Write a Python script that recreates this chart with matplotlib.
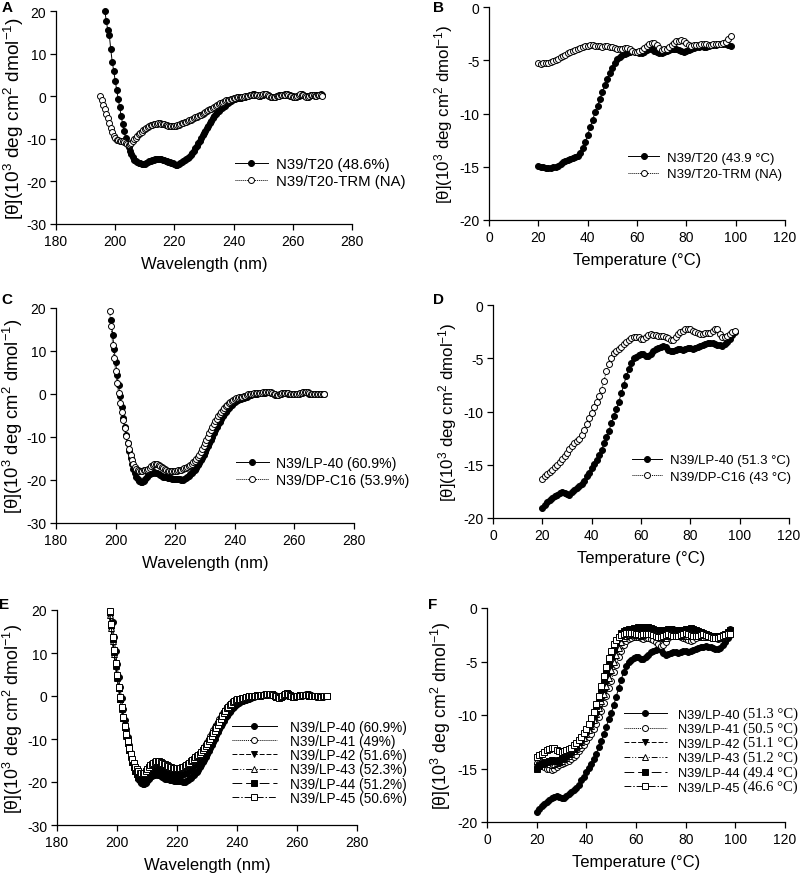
import numpy as np
import matplotlib
matplotlib.use("Agg")
import matplotlib.pyplot as plt
from matplotlib.transforms import IdentityTransform

plt.rcParams.update({
    "font.family": ["Liberation Sans", "DejaVu Sans"],
    "mathtext.fontset": "custom",
    "mathtext.rm": "Liberation Sans",
    "mathtext.it": "Liberation Sans:italic",
    "mathtext.bf": "Liberation Sans:bold",
    "mathtext.sf": "Liberation Sans",
    "mathtext.tt": "Liberation Serif",
    "axes.unicode_minus": False,
})

# ---------------- data ----------------
WL_STEP = 0.5
# Panel A (CD spectra)
A_T20_START = 196.5
A_T20 = [20.0, 17.6, 15.5, 14.4, 11.0, 8.0, 6.0, 3.6, 1.5, -0.6,
         -2.6, -4.6, -6.5, -8.2, -9.8, -11.0, -12.0, -12.8, -13.6, -14.3,
         -14.9, -15.3, -15.5, -15.6, -15.7, -15.8, -15.8, -15.8, -15.7, -15.5,
         -15.3, -15.1, -15.0, -14.9, -14.8, -14.7, -14.7, -14.7, -14.8, -14.9,
         -15.0, -15.2, -15.3, -15.4, -15.5, -15.6, -15.7, -15.9, -16.1, -16.1,
         -15.9, -15.7, -15.5, -15.3, -15.0, -14.8, -14.5, -14.2, -13.8, -13.3,
         -12.8, -12.2, -11.6, -11.0, -10.4, -9.8, -9.2, -8.7, -8.1, -7.5,
         -7.0, -6.4, -5.8, -5.2, -4.7, -4.2, -3.8, -3.4, -3.1, -2.8,
         -2.5, -2.2, -1.9, -1.6, -1.3, -1.1, -0.9, -0.7, -0.6, -0.5,
         -0.5, -0.5, -0.4, -0.3, -0.2, -0.1, 0.0, 0.1, 0.2, 0.3,
         0.4, 0.4, 0.3, 0.2, 0.1, 0.1, 0.2, 0.3, 0.4, 0.4,
         0.3, 0.1, -0.1, -0.2, -0.2, -0.1, 0.0, 0.1, 0.2, 0.2,
         0.2, 0.3, 0.4, 0.4, 0.3, 0.2, 0.1, 0.0, -0.1, -0.1,
         0.0, 0.1, 0.3, 0.4, 0.3, 0.1, 0.0, -0.1, 0.0, 0.2,
         0.3, 0.3, 0.2, 0.2, 0.3, 0.3, 0.4, 0.3]
A_TRM_START = 195.0
A_TRM = [0.0, -1.0, -2.0, -3.0, -4.1, -5.2, -6.3, -7.4, -8.4, -9.3,
         -9.9, -10.2, -10.3, -10.4, -10.5, -10.6, -10.7, -10.9, -11.2, -11.5,
         -11.2, -10.9, -10.5, -10.1, -9.7, -9.3, -8.9, -8.6, -8.3, -8.0,
         -7.7, -7.4, -7.2, -7.0, -6.8, -6.7, -6.6, -6.5, -6.5, -6.4,
         -6.4, -6.5, -6.5, -6.6, -6.7, -6.8, -6.9, -7.0, -7.1, -7.1,
         -7.0, -6.9, -6.8, -6.7, -6.6, -6.4, -6.3, -6.1, -6.0, -5.8,
         -5.6, -5.5, -5.3, -5.1, -4.9, -4.8, -4.6, -4.4, -4.3, -4.1,
         -3.9, -3.7, -3.5, -3.3, -3.1, -2.9, -2.7, -2.5, -2.3, -2.1,
         -1.9, -1.7, -1.5, -1.4, -1.2, -1.0, -0.9, -0.8, -0.7, -0.6,
         -0.5, -0.4, -0.3, -0.3, -0.3, -0.2, -0.2, -0.1, 0.0, 0.1,
         0.1, 0.2, 0.3, 0.3, 0.3, 0.2, 0.2, 0.1, 0.2, 0.3,
         0.4, 0.5, 0.4, 0.3, 0.0, -0.2, -0.3, -0.2, -0.1, 0.0,
         0.0, 0.1, 0.2, 0.2, 0.3, 0.3, 0.4, 0.3, 0.1, 0.0,
         -0.1, -0.2, -0.1, 0.0, 0.2, 0.4, 0.3, 0.2, 0.0, -0.1,
         -0.1, 0.1, 0.2, 0.3, 0.2, 0.1, 0.1, 0.2, 0.2, 0.2,
         0.1]

# Panel C / E (CD spectra)
LP40_CD_START = 198.5
LP40_CD = [17.3, 13.8, 10.5, 7.5, 4.5, 2.0, -0.5, -3.0, -5.5, -7.6,
           -9.6, -11.5, -13.2, -14.8, -16.2, -17.4, -18.4, -19.2, -19.8, -20.2,
           -20.4, -20.4, -20.2, -19.8, -19.3, -18.9, -18.6, -18.4, -18.3, -18.2,
           -18.3, -18.4, -18.6, -18.8, -19.0, -19.2, -19.3, -19.4, -19.5, -19.6,
           -19.6, -19.7, -19.7, -19.7, -19.7, -19.8, -19.8, -19.9, -19.9, -19.8,
           -19.6, -19.3, -19.0, -18.7, -18.4, -18.0, -17.6, -17.1, -16.6, -16.0,
           -15.4, -14.8, -14.1, -13.4, -12.8, -12.1, -11.4, -10.6, -9.9, -9.1,
           -8.4, -7.7, -7.0, -6.4, -5.8, -5.2, -4.7, -4.2, -3.7, -3.3,
           -2.9, -2.5, -2.2, -1.9, -1.6, -1.4, -1.2, -1.1, -1.0, -0.9,
           -0.8, -0.6, -0.5, -0.3, -0.2, -0.1, 0.0, 0.1, 0.1, 0.2,
           0.2, 0.3, 0.3, 0.3, 0.4, 0.4, 0.4, 0.3, 0.2, 0.0,
           -0.2, -0.3, -0.2, 0.0, 0.1, 0.2, 0.3, 0.3, 0.2, 0.1,
           0.0, -0.1, -0.1, -0.1, 0.0, 0.0, 0.1, 0.2, 0.3, 0.4,
           0.4, 0.4, 0.3, 0.1, 0.0, -0.1, -0.1, -0.1, 0.0, 0.0,
           0.0, 0.0, 0.0, 0.0]
DPC16_CD_START = 198.0
DPC16_CD = [19.2, 15.7, 11.5, 8.3, 5.3, 2.6, 0.2, -2.1, -4.2, -6.1,
            -8.0, -9.8, -11.4, -12.9, -14.2, -15.3, -16.2, -16.9, -17.4, -17.7,
            -17.8, -17.8, -17.8, -17.7, -17.7, -17.6, -17.4, -17.1, -16.8, -16.5,
            -16.3, -16.2, -16.3, -16.5, -16.8, -17.0, -17.3, -17.5, -17.7, -17.8,
            -17.9, -17.9, -17.8, -17.8, -17.8, -17.8, -17.7, -17.7, -17.6, -17.4,
            -17.3, -17.1, -16.9, -16.7, -16.5, -16.2, -15.9, -15.5, -15.1, -14.6,
            -14.1, -13.5, -12.8, -12.1, -11.3, -10.6, -9.9, -9.1, -8.4, -7.7,
            -7.0, -6.3, -5.7, -5.1, -4.6, -4.1, -3.7, -3.3, -2.9, -2.5,
            -2.2, -1.9, -1.6, -1.4, -1.2, -1.0, -0.9, -0.8, -0.7, -0.6,
            -0.5, -0.4, -0.2, -0.1, 0.0, 0.1, 0.1, 0.2, 0.2, 0.3,
            0.3, 0.3, 0.3, 0.4, 0.4, 0.5, 0.5, 0.5, 0.4, 0.3,
            0.1, -0.1, -0.3, -0.3, -0.1, 0.1, 0.2, 0.3, 0.3, 0.3,
            0.2, 0.1, 0.0, -0.1, -0.1, -0.1, 0.0, 0.1, 0.2, 0.3,
            0.4, 0.5, 0.5, 0.4, 0.2, 0.0, -0.1, -0.1, 0.0, 0.0,
            -0.1, 0.0, 0.0, 0.1, 0.1]

E_START = 197.5
LP41_CD = [19.0, 16.0, 13.0, 10.0, 7.2, 4.5, 2.0, -0.5, -2.9, -5.1,
           -7.2, -9.1, -10.9, -12.5, -14.0, -15.3, -16.4, -17.3, -18.0, -18.4,
           -18.7, -18.8, -18.8, -18.6, -18.2, -17.7, -17.2, -16.8, -16.5, -16.3,
           -16.1, -16.0, -16.0, -16.1, -16.2, -16.4, -16.6, -16.8, -17.0, -17.2,
           -17.3, -17.4, -17.5, -17.6, -17.6, -17.7, -17.7, -17.6, -17.5, -17.4,
           -17.2, -17.0, -16.7, -16.4, -16.1, -15.7, -15.3, -14.9, -14.5, -14.0,
           -13.5, -13.0, -12.4, -11.8, -11.2, -10.6, -9.9, -9.3, -8.6, -8.0,
           -7.3, -6.7, -6.0, -5.4, -4.8, -4.2, -3.7, -3.2, -2.8, -2.4,
           -2.0, -1.7, -1.4, -1.2, -1.0, -0.8, -0.7, -0.6, -0.5, -0.4,
           -0.3, -0.2, -0.1, 0.0, 0.0, 0.1, 0.1, 0.1, 0.2, 0.2,
           0.2, 0.3, 0.3, 0.4, 0.4, 0.4, 0.5, 0.4, 0.3, 0.2,
           0.0, -0.2, -0.3, -0.3, -0.1, 0.1, 0.4, 0.5, 0.5, 0.3,
           0.0, -0.1, -0.2, -0.1, 0.0, 0.0, 0.1, 0.2, 0.2, 0.3,
           0.3, 0.2, 0.2, 0.1, 0.1, 0.0, -0.1, -0.1, -0.1, -0.2,
           -0.1, -0.1, -0.2, -0.1, -0.1, -0.1]
LP42_CD = [18.5, 15.5, 12.5, 9.6, 6.8, 4.2, 1.7, -0.8, -3.1, -5.3,
           -7.4, -9.3, -11.1, -12.7, -14.2, -15.5, -16.6, -17.5, -18.3, -18.9,
           -19.3, -19.5, -19.5, -19.3, -18.9, -18.4, -17.9, -17.5, -17.2, -17.0,
           -16.8, -16.7, -16.7, -16.8, -16.9, -17.1, -17.3, -17.5, -17.7, -17.9,
           -18.0, -18.1, -18.2, -18.3, -18.3, -18.4, -18.4, -18.3, -18.2, -18.1,
           -17.9, -17.7, -17.4, -17.1, -16.8, -16.4, -16.0, -15.6, -15.2, -14.7,
           -14.2, -13.7, -13.1, -12.5, -11.9, -11.3, -10.6, -10.0, -9.3, -8.7,
           -8.0, -7.4, -6.7, -6.1, -5.5, -4.9, -4.3, -3.7, -3.2, -2.8,
           -2.4, -2.0, -1.7, -1.4, -1.2, -1.0, -0.8, -0.7, -0.6, -0.5,
           -0.4, -0.3, -0.2, -0.1, 0.0, 0.0, 0.1, 0.1, 0.2, 0.2,
           0.2, 0.3, 0.3, 0.3, 0.4, 0.4, 0.4, 0.5, 0.4, 0.3,
           0.1, -0.1, -0.3, -0.4, -0.3, -0.1, 0.2, 0.4, 0.5, 0.4,
           0.1, 0.0, -0.2, -0.2, -0.1, 0.0, 0.1, 0.2, 0.2, 0.2,
           0.3, 0.2, 0.2, 0.1, 0.1, 0.0, -0.1, -0.1, -0.1, -0.1,
           -0.1, -0.2, -0.2, -0.1, -0.1, -0.1]
LP43_CD = [18.8, 15.8, 12.8, 9.8, 7.0, 4.3, 1.8, -0.7, -3.0, -5.2,
           -7.3, -9.2, -11.0, -12.6, -14.1, -15.4, -16.5, -17.4, -18.1, -18.6,
           -19.0, -19.2, -19.2, -19.0, -18.6, -18.1, -17.6, -17.2, -16.9, -16.7,
           -16.5, -16.4, -16.4, -16.5, -16.6, -16.8, -17.0, -17.2, -17.4, -17.6,
           -17.7, -17.8, -17.9, -18.0, -18.0, -18.1, -18.1, -18.0, -17.9, -17.8,
           -17.6, -17.4, -17.1, -16.8, -16.5, -16.1, -15.7, -15.3, -14.9, -14.4,
           -13.9, -13.4, -12.8, -12.2, -11.6, -11.0, -10.3, -9.7, -9.0, -8.4,
           -7.7, -7.1, -6.4, -5.8, -5.2, -4.6, -4.0, -3.5, -3.0, -2.6,
           -2.2, -1.9, -1.6, -1.3, -1.1, -0.9, -0.8, -0.7, -0.6, -0.5,
           -0.4, -0.3, -0.2, -0.1, 0.0, 0.1, 0.1, 0.2, 0.2, 0.2,
           0.2, 0.3, 0.3, 0.4, 0.4, 0.5, 0.5, 0.5, 0.4, 0.2,
           0.0, -0.2, -0.3, -0.3, -0.2, 0.0, 0.3, 0.5, 0.6, 0.4,
           0.1, -0.1, -0.2, -0.1, 0.0, 0.1, 0.2, 0.2, 0.3, 0.3,
           0.3, 0.2, 0.2, 0.1, 0.0, 0.0, -0.1, -0.1, -0.1, -0.2,
           -0.2, -0.2, -0.1, -0.1, -0.1, -0.1]
LP44_CD = [19.5, 16.4, 13.3, 10.2, 7.3, 4.5, 1.9, -0.6, -2.9, -5.1,
           -7.2, -9.1, -10.9, -12.5, -14.0, -15.3, -16.4, -17.4, -18.2, -18.8,
           -19.2, -19.4, -19.4, -19.2, -18.8, -18.3, -17.8, -17.4, -17.1, -16.9,
           -16.7, -16.6, -16.6, -16.7, -16.8, -17.0, -17.2, -17.4, -17.6, -17.8,
           -17.9, -18.0, -18.1, -18.2, -18.2, -18.3, -18.3, -18.2, -18.1, -18.0,
           -17.8, -17.6, -17.3, -17.0, -16.7, -16.3, -15.9, -15.5, -15.1, -14.6,
           -14.1, -13.6, -13.0, -12.4, -11.8, -11.2, -10.5, -9.9, -9.2, -8.6,
           -7.9, -7.3, -6.6, -6.0, -5.4, -4.8, -4.2, -3.6, -3.1, -2.7,
           -2.3, -1.9, -1.6, -1.3, -1.1, -0.9, -0.8, -0.7, -0.6, -0.5,
           -0.4, -0.3, -0.2, -0.1, 0.0, 0.1, 0.1, 0.1, 0.2, 0.2,
           0.2, 0.2, 0.3, 0.3, 0.4, 0.4, 0.5, 0.5, 0.4, 0.2,
           0.0, -0.2, -0.3, -0.3, -0.2, 0.0, 0.3, 0.5, 0.6, 0.4,
           0.1, -0.1, -0.2, -0.1, 0.0, 0.1, 0.1, 0.2, 0.2, 0.3,
           0.3, 0.3, 0.2, 0.1, 0.1, 0.0, 0.0, -0.1, -0.1, -0.1,
           -0.2, -0.2, -0.1, -0.1, -0.1, -0.1]
LP45_CD = [19.8, 16.8, 13.7, 10.6, 7.6, 4.8, 2.2, -0.3, -2.6, -4.8,
           -6.9, -8.8, -10.5, -12.0, -13.4, -14.6, -15.6, -16.4, -17.0, -17.5,
           -17.8, -18.0, -18.0, -17.8, -17.4, -16.9, -16.4, -16.0, -15.7, -15.5,
           -15.3, -15.2, -15.2, -15.2, -15.3, -15.5, -15.7, -15.9, -16.1, -16.3,
           -16.5, -16.6, -16.7, -16.8, -16.8, -16.8, -16.8, -16.7, -16.6, -16.5,
           -16.3, -16.1, -15.8, -15.5, -15.2, -14.9, -14.6, -14.3, -14.0, -13.7,
           -13.4, -13.0, -12.6, -12.1, -11.6, -11.1, -10.5, -9.9, -9.3, -8.7,
           -8.1, -7.5, -6.8, -6.1, -5.4, -4.7, -4.0, -3.4, -2.9, -2.5,
           -2.1, -1.8, -1.5, -1.2, -1.0, -0.8, -0.7, -0.6, -0.5, -0.5,
           -0.4, -0.3, -0.2, -0.1, 0.0, 0.0, 0.1, 0.1, 0.1, 0.1,
           0.1, 0.2, 0.2, 0.3, 0.3, 0.4, 0.4, 0.5, 0.4, 0.3,
           0.1, -0.1, -0.3, -0.4, -0.3, -0.1, 0.2, 0.5, 0.6, 0.5,
           0.2, -0.1, -0.2, -0.2, -0.1, 0.0, 0.1, 0.1, 0.2, 0.2,
           0.3, 0.3, 0.2, 0.2, 0.1, 0.0, 0.0, 0.0, -0.1, -0.1,
           -0.1, -0.2, -0.1, -0.1, -0.1, -0.1]

# Thermal melts (1 degC steps from 20 degC)
T_START = 20
T20_MELT = [-14.9, -15.0, -15.05, -15.1, -15.1, -15.1, -15.05, -15.0, -14.9, -14.75,
            -14.6, -14.5, -14.4, -14.3, -14.2, -14.1, -13.95, -13.7, -13.2, -12.7,
            -12.0, -11.3, -10.6, -9.9, -9.25, -8.6, -7.95, -7.3, -6.75, -6.2,
            -5.7, -5.25, -4.9, -4.65, -4.5, -4.4, -4.3, -4.2, -4.15, -4.2,
            -4.25, -4.3, -4.3, -4.2, -4.05, -3.95, -3.95, -4.1, -4.2, -4.3,
            -4.35, -4.25, -4.15, -4.05, -3.95, -3.9, -3.95, -4.05, -4.15, -4.2,
            -4.15, -4.0, -3.9, -3.85, -3.8, -3.75, -3.7, -3.75, -3.8, -3.7,
            -3.6, -3.6, -3.55, -3.5, -3.5, -3.5, -3.5, -3.55, -3.65]
TRM_MELT = [-5.3, -5.32, -5.3, -5.28, -5.22, -5.15, -5.05, -4.95, -4.85, -4.72,
            -4.6, -4.5, -4.35, -4.25, -4.12, -4.0, -3.92, -3.85, -3.78, -3.7,
            -3.62, -3.58, -3.6, -3.62, -3.65, -3.7, -3.72, -3.68, -3.65, -3.72,
            -3.8, -3.85, -3.9, -3.92, -3.9, -3.85, -3.82, -3.95, -4.1, -4.2,
            -4.2, -4.1, -4.0, -3.85, -3.65, -3.45, -3.35, -3.4, -3.6, -3.85,
            -4.0, -3.98, -3.9, -3.75, -3.55, -3.35, -3.22, -3.15, -3.12, -3.2,
            -3.4, -3.55, -3.62, -3.6, -3.58, -3.55, -3.5, -3.48, -3.5, -3.55,
            -3.55, -3.52, -3.5, -3.5, -3.45, -3.4, -3.25, -3.0, -2.75]
LP40_MELT = [-19.1, -18.8, -18.5, -18.3, -18.1, -17.95, -17.8, -17.65, -17.6, -17.65,
             -17.75, -17.8, -17.6, -17.35, -17.2, -17.0, -16.8, -16.5, -16.1, -15.75,
             -15.35, -14.95, -14.55, -14.1, -13.6, -13.0, -12.4, -11.8, -11.1, -10.4,
             -9.8, -9.1, -8.3, -7.5, -6.7, -6.0, -5.4, -5.0, -4.85, -4.7,
             -4.6, -4.6, -4.75, -4.8, -4.6, -4.35, -4.15, -4.0, -3.9, -3.85,
             -3.95, -4.2, -4.35, -4.3, -4.2, -4.15, -4.15, -4.2, -4.1, -4.05,
             -4.05, -4.1, -4.05, -3.95, -3.85, -3.75, -3.65, -3.6, -3.58, -3.6,
             -3.65, -3.75, -3.8, -3.85, -3.7, -3.45, -3.15, -2.85, -2.55]
DPC16_MELT = [-16.3, -16.1, -15.85, -15.65, -15.45, -15.25, -15.0, -14.75, -14.45, -14.15,
              -13.85, -13.5, -13.2, -12.95, -12.75, -12.55, -12.2, -11.75, -11.2, -10.65,
              -10.1, -9.6, -9.1, -8.55, -7.95, -7.1, -6.2, -5.5, -4.95, -4.55,
              -4.3, -4.1, -3.9, -3.7, -3.5, -3.3, -3.1, -3.0, -3.0, -3.05,
              -3.15, -3.2, -3.0, -2.85, -2.75, -2.8, -2.85, -2.9, -2.9, -2.95,
              -3.0, -3.1, -3.25, -3.3, -3.0, -2.7, -2.55, -2.4, -2.3, -2.25,
              -2.3, -2.4, -2.55, -2.65, -2.7, -2.7, -2.65, -2.6, -2.6, -2.45,
              -2.25, -2.3, -2.7, -3.05, -3.05, -2.95, -2.75, -2.55, -2.4]
LP41_MELT = [-14.5, -14.7, -14.8, -14.9, -15.0, -15.05, -15.1, -15.0, -14.85, -14.7,
             -14.6, -14.5, -14.4, -14.3, -14.15, -13.95, -13.7, -13.4, -13.1, -12.8,
             -12.45, -12.1, -11.75, -11.3, -10.8, -10.2, -9.6, -8.9, -8.2, -7.5,
             -6.8, -6.0, -5.3, -4.6, -4.0, -3.5, -3.1, -2.9, -2.8, -2.75,
             -2.7, -2.75, -2.85, -2.9, -2.85, -2.8, -2.9, -3.0, -3.2, -3.4,
             -3.55, -3.5, -3.2, -2.8, -2.4, -2.0, -2.1, -2.4, -2.7, -2.8,
             -2.9, -3.0, -3.1, -3.0, -2.8, -2.6, -2.5, -2.5, -2.6, -2.7,
             -2.75, -2.8, -2.85, -2.9, -2.85, -2.7, -2.5, -2.2, -2.0]
LP42_MELT = [-14.9, -14.7, -14.55, -14.4, -14.35, -14.3, -14.35, -14.4, -14.4, -14.35,
             -14.25, -14.15, -14.0, -13.85, -13.7, -13.5, -13.25, -12.95, -12.6, -12.25,
             -11.9, -11.5, -11.1, -10.6, -10.0, -9.4, -8.7, -7.9, -7.1, -6.3,
             -5.5, -4.7, -4.0, -3.4, -2.9, -2.5, -2.3, -2.2, -2.15, -2.1,
             -2.1, -2.0, -1.95, -1.9, -1.9, -1.95, -2.0, -2.1, -2.2, -2.25,
             -2.3, -2.25, -2.15, -2.1, -2.15, -2.2, -2.3, -2.35, -2.3, -2.25,
             -2.2, -2.15, -2.1, -2.15, -2.25, -2.35, -2.45, -2.55, -2.6, -2.65,
             -2.7, -2.75, -2.8, -2.75, -2.7, -2.6, -2.5, -2.35, -2.2]
LP43_MELT = [-14.6, -14.5, -14.45, -14.4, -14.5, -14.6, -14.65, -14.6, -14.5, -14.4,
             -14.3, -14.15, -14.0, -13.8, -13.6, -13.4, -13.15, -12.85, -12.5, -12.15,
             -11.8, -11.4, -11.0, -10.5, -9.95, -9.35, -8.7, -8.0, -7.3, -6.55,
             -5.8, -5.05, -4.35, -3.7, -3.2, -2.8, -2.6, -2.5, -2.45, -2.45,
             -2.5, -2.55, -2.6, -2.55, -2.45, -2.35, -2.3, -2.35, -2.45, -2.6,
             -2.75, -2.85, -2.8, -2.65, -2.5, -2.4, -2.35, -2.4, -2.5, -2.6,
             -2.65, -2.6, -2.5, -2.45, -2.5, -2.6, -2.7, -2.75, -2.7, -2.6,
             -2.55, -2.6, -2.7, -2.8, -2.85, -2.75, -2.55, -2.3, -2.1]
LP44_MELT = [-15.0, -14.8, -14.6, -14.45, -14.35, -14.3, -14.25, -14.3, -14.3, -14.2,
             -14.05, -13.9, -13.75, -13.6, -13.4, -13.15, -12.85, -12.5, -12.15, -11.8,
             -11.4, -11.0, -10.5, -9.9, -9.2, -8.4, -7.6, -6.8, -6.0, -5.2,
             -4.5, -3.8, -3.2, -2.7, -2.35, -2.15, -2.05, -2.0, -1.95, -1.9,
             -1.85, -1.8, -1.8, -1.75, -1.75, -1.8, -1.85, -1.95, -2.05, -2.1,
             -2.15, -2.1, -2.05, -2.0, -2.0, -2.05, -2.1, -2.15, -2.1, -2.05,
             -2.0, -1.95, -1.9, -1.95, -2.05, -2.15, -2.25, -2.35, -2.45, -2.55,
             -2.6, -2.65, -2.7, -2.65, -2.6, -2.5, -2.4, -2.25, -2.1]
LP45_MELT = [-13.9, -13.75, -13.6, -13.45, -13.3, -13.2, -13.1, -13.1, -13.25, -13.4,
             -13.45, -13.4, -13.3, -13.2, -13.05, -12.85, -12.6, -12.35, -12.05, -11.7,
             -11.3, -10.85, -10.3, -9.7, -9.0, -8.2, -7.3, -6.4, -5.5, -4.7,
             -4.0, -3.4, -3.0, -2.7, -2.5, -2.4, -2.35, -2.3, -2.3, -2.35,
             -2.4, -2.45, -2.5, -2.45, -2.4, -2.4, -2.45, -2.55, -2.65, -2.7,
             -2.7, -2.6, -2.5, -2.45, -2.5, -2.6, -2.65, -2.6, -2.5, -2.4,
             -2.35, -2.4, -2.5, -2.6, -2.65, -2.6, -2.5, -2.45, -2.5, -2.6,
             -2.7, -2.8, -2.85, -2.8, -2.7, -2.6, -2.5, -2.45, -2.4]

# labels
YLABEL = r"[θ](10$^{3}$ deg cm$^{2}$ dmol$^{-1}$)"
XLABEL_WL = "Wavelength (nm)"
XLABEL_T = "Temperature (°C)"
LEG_A = ["N39/T20 (48.6%)", "N39/T20-TRM (NA)"]
LEG_B = ["N39/T20 (43.9 °C)", "N39/T20-TRM (NA)"]
LEG_C = ["N39/LP-40 (60.9%)", "N39/DP-C16 (53.9%)"]
LEG_D = ["N39/LP-40 (51.3 °C)", "N39/DP-C16 (43 °C)"]
E_NAMES = ["N39/LP-40", "N39/LP-41", "N39/LP-42", "N39/LP-43", "N39/LP-44", "N39/LP-45"]
E_HELIX = ["60.9%", "49%", "51.6%", "52.3%", "51.2%", "50.6%"]
F_TM = ["51.3", "50.5", "51.1", "51.2", "49.4", "46.6"]


def grid(start, vals, step):
    return start + step * np.arange(len(vals))


# ---------------- styles ----------------
STY = {
    "LP40": dict(marker="o", mfc="black", ls="-", ms=4.3),
    "LP41": dict(marker="o", mfc="white", ls=(0, (1, 1)), ms=4.3),
    "LP42": dict(marker="v", mfc="black", ls=(0, (5, 2)), ms=4.6),
    "LP43": dict(marker="^", mfc="white", ls=(0, (6, 2, 1, 2, 1, 2)), ms=4.6),
    "LP44": dict(marker="s", mfc="black", ls=(0, (10, 4)), ms=4.3),
    "LP45": dict(marker="s", mfc="white", ls=(0, (7, 2, 1.5, 2)), ms=4.3),
}


def draw(ax, x, y, sty, label):
    ax.plot(x, y, color="black", lw=0.7, marker=sty["marker"], ms=sty["ms"],
            mfc=sty["mfc"], mec="black", mew=0.7, ls=sty["ls"], label=label,
            clip_on=False)


fig = plt.figure(figsize=(8, 8.79), dpi=100)
W, H = 800.0, 879.0


def make_ax(l, t, r, b):
    return fig.add_axes([l / W, 1 - b / H, (r - l) / W, (b - t) / H])


def style(ax, xlim, xticks, ylim, yticks, xlabel, ylfs, ylx=-0.11, xly=-0.15):
    ax.set_xlim(*xlim)
    ax.set_ylim(*ylim)
    ax.set_xticks(xticks)
    ax.set_yticks(yticks)
    for s in ("top", "right"):
        ax.spines[s].set_visible(False)
    for s in ("left", "bottom"):
        ax.spines[s].set_linewidth(0.9)
    ax.tick_params(direction="out", length=4, width=0.9, labelsize=10, pad=3)
    ax.set_xlabel(xlabel, fontsize=12)
    ax.set_ylabel(YLABEL, fontsize=ylfs)
    ax.xaxis.set_label_coords(0.5, xly)
    ax.yaxis.set_label_coords(ylx, 0.5)


def legend(ax, anchor, hl, htp, ls, fs):
    return ax.legend(loc="upper left", bbox_to_anchor=anchor, frameon=False,
                     numpoints=1, fontsize=fs, handlelength=hl, handletextpad=htp,
                     labelspacing=ls, borderpad=0, borderaxespad=0)


WL_LIM, WL_TICKS = (180, 280), [180, 200, 220, 240, 260, 280]
CD_LIM, CD_TICKS = (-30, 20), [-30, -20, -10, 0, 10, 20]
T_LIM, T_TICKS = (0, 120), [0, 20, 40, 60, 80, 100, 120]
M_LIM, M_TICKS = (-20, 0), [-20, -15, -10, -5, 0]

# Panel A
axA = make_ax(56, 12, 352, 225)
draw(axA, grid(A_T20_START, A_T20, WL_STEP), A_T20, STY["LP40"], LEG_A[0])
draw(axA, grid(A_TRM_START, A_TRM, WL_STEP), A_TRM, STY["LP41"], LEG_A[1])
style(axA, WL_LIM, WL_TICKS, CD_LIM, CD_TICKS, XLABEL_WL, 13.8, ylx=-0.1)
legend(axA, (0.605, 0.315), 2.2, 0.55, 0.2, 10.7)

# Panel B
axB = make_ax(489, 8, 785, 221)
draw(axB, grid(T_START, T20_MELT, 1), T20_MELT, STY["LP40"], LEG_B[0])
draw(axB, grid(T_START, TRM_MELT, 1), TRM_MELT, STY["LP41"], LEG_B[1])
style(axB, T_LIM, T_TICKS, M_LIM, M_TICKS, XLABEL_T, 12.2, ylx=-0.115)
legend(axB, (0.469, 0.32), 2.4, 0.6, 0.3, 9.5)

# Panel C
axC = make_ax(56, 309, 354, 524)
draw(axC, grid(LP40_CD_START, LP40_CD, WL_STEP), LP40_CD, STY["LP40"], LEG_C[0])
draw(axC, grid(DPC16_CD_START, DPC16_CD, WL_STEP), DPC16_CD, STY["LP41"], LEG_C[1])
style(axC, WL_LIM, WL_TICKS, CD_LIM, CD_TICKS, XLABEL_WL, 13.2, ylx=-0.105)
legend(axC, (0.604, 0.313), 2.3, 0.55, 0.2, 10.2)

# Panel D
axD = make_ax(493, 306, 789, 519)
draw(axD, grid(T_START, LP40_MELT, 1), LP40_MELT, STY["LP40"], LEG_D[0])
draw(axD, grid(T_START, DPC16_MELT, 1), DPC16_MELT, STY["LP41"], LEG_D[1])
style(axD, T_LIM, T_TICKS, M_LIM, M_TICKS, XLABEL_T, 12.2, ylx=-0.115)
legend(axD, (0.47, 0.3), 2.3, 0.55, 0.32, 9.5)

# Panel E
axE = make_ax(57, 611, 357, 826)
e_series = [(LP40_CD_START, LP40_CD), (E_START, LP41_CD), (E_START, LP42_CD),
            (E_START, LP43_CD), (E_START, LP44_CD), (E_START, LP45_CD)]
keys = ["LP40", "LP41", "LP42", "LP43", "LP44", "LP45"]
for (st, vals), k, nm, hx in zip(e_series, keys, E_NAMES, E_HELIX):
    draw(axE, grid(st, vals, WL_STEP), vals, STY[k], f"{nm} ({hx})")
style(axE, WL_LIM, WL_TICKS, CD_LIM, CD_TICKS, XLABEL_WL, 12.9, ylx=-0.105)
legend(axE, (0.583, 0.49), 3.3, 0.95, 0.02, 9.8)

# Panel F (legend: sans names + serif melting temperatures)
axF = make_ax(487, 609, 785, 823)
f_series = [LP40_MELT, LP41_MELT, LP42_MELT, LP43_MELT, LP44_MELT, LP45_MELT]
for vals, k, nm in zip(f_series, keys, E_NAMES):
    draw(axF, grid(T_START, vals, 1), vals, STY[k], nm)
style(axF, T_LIM, T_TICKS, M_LIM, M_TICKS, XLABEL_T, 12.8, ylx=-0.115)
legF = legend(axF, (0.46, 0.53), 3.3, 0.85, 0.2, 9.3)

# panel letters
for letter, (x, y) in zip("ABCDEF", [(7, 8), (439, 8), (7, 300), (439, 300), (4, 605), (433, 605)]):
    fig.text(x / W, 1 - y / H, letter, fontsize=11, fontweight="bold",
             ha="center", va="center")

fig.canvas.draw()
renderer = fig.canvas.get_renderer()
for t, tm in zip(legF.get_texts(), F_TM):
    bb = t.get_window_extent(renderer)
    fig.text(bb.x1 + 3.5, bb.y0 + 0.5, f"({tm} °C)", transform=IdentityTransform(),
             family="Liberation Serif", fontsize=10.5, ha="left", va="bottom")

fig.savefig("out.png", dpi=100)
